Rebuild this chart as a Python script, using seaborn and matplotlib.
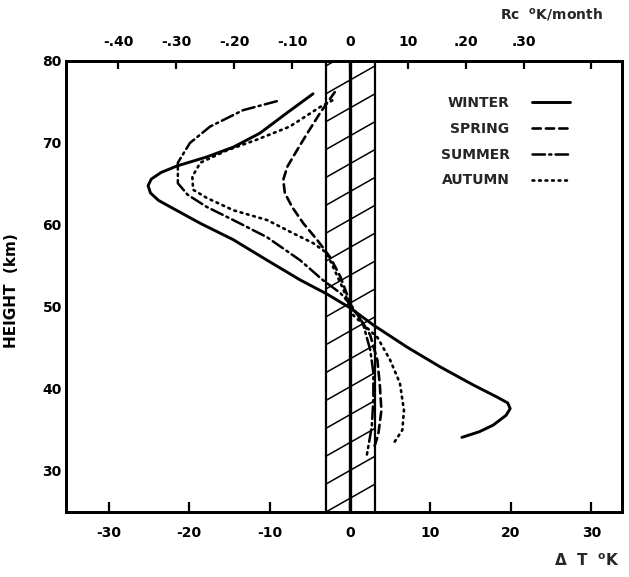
import matplotlib
matplotlib.use("Agg")
import matplotlib.pyplot as plt
import seaborn as sns
import numpy as np
import pandas as pd

sns.set_theme(style="white")
plt.rcParams['font.family'] = ['DejaVu Sans']
plt.rcParams['font.weight'] = 'bold'
plt.rcParams['lines.scale_dashes'] = False

# ---- data (delta T in K vs height in km) ----
winter_dt = [-4.6, -7.8, -11.2, -14.5, -17.8, -21.5, -23.5, -24.7, -25.1, -24.8, -23.8, -22.7,
             -18.6, -14.5, -10.3, -6.2, -2.9, 0.0, 2.9, 7.1, 11.2, 15.3, 18.3, 19.6, 19.9,
             19.4, 17.8, 16.1, 13.9]
winter_h = [76.0, 73.7, 71.2, 69.5, 68.3, 67.2, 66.4, 65.6, 64.8, 63.9, 63.0, 62.4,
            60.2, 58.2, 55.7, 53.3, 51.6, 49.9, 47.8, 45.1, 42.7, 40.5, 39.0, 38.3, 37.6,
            36.8, 35.6, 34.8, 34.1]

spring_dt = [-1.9, -3.7, -5.3, -6.6, -7.8, -8.3, -8.1, -7.2, -5.8, -4.1, -2.5, -1.2, 0.2,
             1.2, 2.5, 3.4, 3.7, 3.9, 3.5, 2.9]
spring_h = [76.2, 73.7, 71.2, 69.1, 67.1, 65.5, 63.9, 62.2, 60.2, 58.2, 56.1, 53.7, 50.0,
            48.7, 46.6, 43.5, 40.5, 37.4, 34.4, 32.6]

summer_dt = [-9.1, -13.3, -17.4, -19.9, -21.4, -21.4, -20.2, -17.8, -14.5, -10.3, -6.2, -3.4,
             -1.2, 0.3, 1.6, 2.5, 2.9, 2.9, 2.7, 2.1]
summer_h = [75.1, 74.0, 72.0, 70.0, 67.6, 65.1, 63.7, 62.2, 60.6, 58.5, 55.7, 53.3,
            51.7, 50.0, 48.0, 44.8, 42.0, 38.7, 35.4, 32.0]

autumn_dt = [-2.2, -3.7, -7.5, -11.6, -15.3, -18.6, -19.6, -19.5, -17.8, -14.5, -10.3, -7.1,
             -4.6, -2.9, -0.9, 0.4, 3.4, 5.0, 6.2, 6.7, 6.5, 5.3]
autumn_h = [75.2, 74.4, 72.0, 70.4, 69.1, 67.6, 65.9, 64.3, 63.3, 61.8, 60.6, 59.0,
            57.8, 56.6, 52.3, 49.0, 46.3, 43.5, 40.7, 37.4, 35.0, 33.2]

seasons = ["WINTER", "SPRING", "SUMMER", "AUTUMN"]
band_lo, band_hi = -3.0, 3.1          # shaded uncertainty band (K)
hatch_step, hatch_rise = 3.4, 3.4     # hatch spacing / rise across band (km)

x_ticks = [-30, -20, -10, 0, 10, 20, 30]
y_ticks = [30, 40, 50, 60, 70, 80]
rc_ticks = [-0.40, -0.30, -0.20, -0.10, 0.0, 0.10, 0.20, 0.30]
rc_labels = ["-.40", "-.30", "-.20", "-.10", "0", "10", ".20", ".30"]
rc_scale = 72.0  # K per (K/month) unit on the top axis
xlim = (-35.3, 33.8)
ylim = (25, 80)

frames = []
for name, xs, ys in [("WINTER", winter_dt, winter_h), ("SPRING", spring_dt, spring_h),
                     ("SUMMER", summer_dt, summer_h), ("AUTUMN", autumn_dt, autumn_h)]:
    frames.append(pd.DataFrame({"dT": xs, "h": ys, "season": name}))
df = pd.concat(frames, ignore_index=True)

styles = {
    "WINTER": dict(linestyle="-", linewidth=2.1),
    "SPRING": dict(linestyle=(0, (6.0, 3.6)), linewidth=1.9),
    "SUMMER": dict(linestyle=(0, (9.0, 3.0, 1.6, 3.0)), linewidth=1.8),
    "AUTUMN": dict(linestyle=(0, (1.3, 3.4)), linewidth=1.9),
}

fig = plt.figure(figsize=(6.29, 5.77), dpi=100)
ax = fig.add_axes([66/629, 1-512/577, (622-66)/629, (512-61)/577])

# band
for xv, lw in [(band_lo, 1.6), (0.0, 2.4), (band_hi, 1.6)]:
    ax.axvline(xv, color="black", linewidth=lw, zorder=2)
starts = np.arange(ylim[0] - hatch_rise, ylim[1] + hatch_step, hatch_step)
for s in starts:
    ax.plot([band_lo, band_hi], [s, s + hatch_rise], color="black", linewidth=1.1, zorder=1)

for name in seasons:
    sub = df[df.season == name]
    sns.lineplot(data=sub, x="dT", y="h", sort=False, estimator=None, ax=ax,
                 color="black", label=name, solid_capstyle="round",
                 dash_capstyle="round", **styles[name])

ax.set_xlim(*xlim)
ax.set_ylim(*ylim)
ax.set_xticks(x_ticks)
ax.set_xticklabels([str(v) for v in x_ticks])
ax.set_yticks(y_ticks)
ax.set_yticklabels([str(v) for v in y_ticks])
ax.tick_params(axis="x", direction="in", length=7, width=1.6, pad=10, labelsize=10, colors="black")
ax.tick_params(axis="y", direction="in", length=7, width=1.6, pad=3, labelsize=10, colors="black")
for sp in ax.spines.values():
    sp.set_color("black")
    sp.set_linewidth(2.0)

ax.set_xlabel("")
ax.set_ylabel("HEIGHT  (km)", fontsize=11, fontweight="bold", color="black")
ax.yaxis.set_label_coords(-0.085, 0.49)

ax2 = ax.twiny()
ax2.set_xlim(xlim[0] / rc_scale, xlim[1] / rc_scale)
ax2.set_xticks(rc_ticks)
ax2.set_xticklabels(rc_labels)
ax2.set_xticks([30 / rc_scale], minor=True)
ax2.tick_params(axis="x", which="major", direction="in", length=6, width=1.6, pad=9,
                labelsize=10, colors="black")
ax2.tick_params(axis="x", which="minor", direction="in", length=6, width=1.6, colors="black")
for sp in ax2.spines.values():
    sp.set_linewidth(2.0)
    sp.set_color("black")

fig.text(587/629, 1-561/577, r"$\mathbf{\Delta\ \ T\ \ ^{o}K}$", ha="center", va="center",
         fontsize=11)
fig.text(551/629, 1-14/577, r"Rc  $^{\mathbf{o}}$K/month", ha="center", va="center",
         fontsize=10, fontweight="bold")

leg = ax.legend(loc="upper right", bbox_to_anchor=(570/629, 1-96/577),
                bbox_transform=fig.transFigure, frameon=False, markerfirst=False,
                handlelength=2.75, handletextpad=1.6, labelspacing=0.85,
                borderpad=0, borderaxespad=0, prop=dict(size=10, weight="bold"))

fig.savefig("out.png", dpi=100, facecolor="white")
